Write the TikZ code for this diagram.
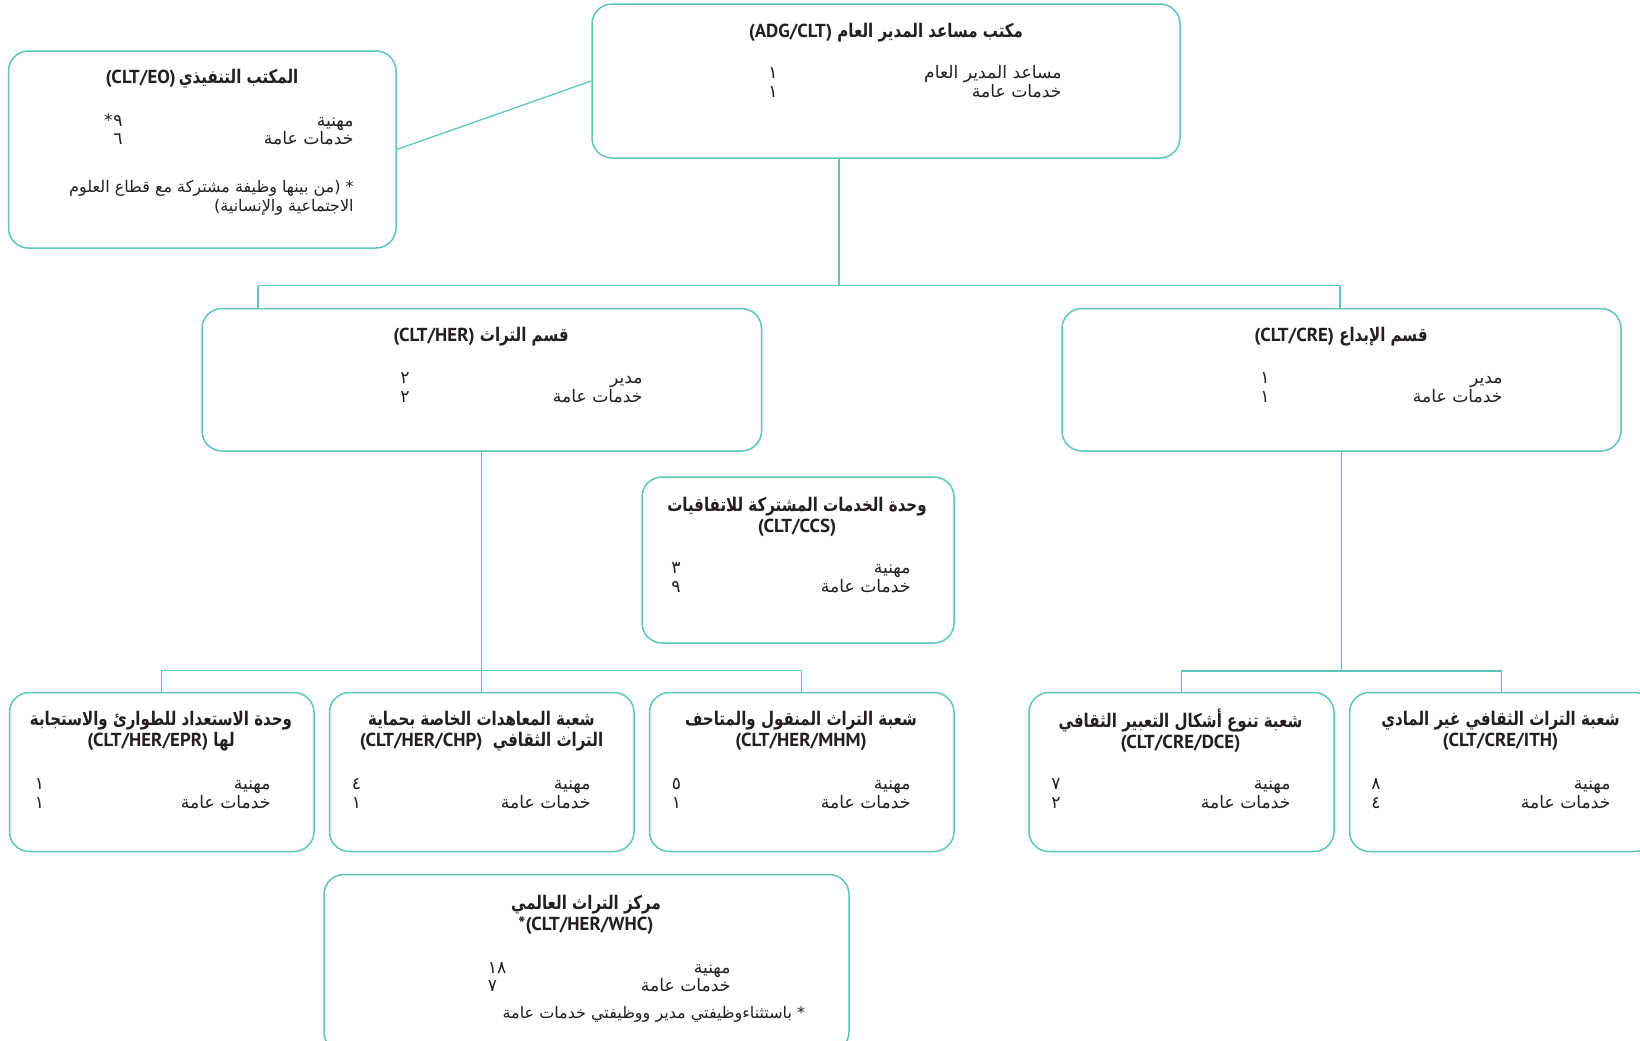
\documentclass[tikz,border=0pt]{standalone}
\usepackage{fontspec}
\setmainfont{DejaVu Sans}
\newfontfamily\ar[Script=Arabic]{DejaVu Sans}
\newfontfamily\arb[Script=Arabic,FakeStretch=0.8]{DejaVu Sans}
\newfontfamily\lt{PT Sans}
\TeXXeTstate=1
\usetikzlibrary{fit}
\newcommand\rtlx[1]{{\beginR #1\endR}}
\newcommand\latx[1]{{\lt #1}}
\definecolor{lineteal}{HTML}{5EC6BA}
\definecolor{ink}{HTML}{231F20}
\tikzset{
  orgbox/.style={draw=lineteal, line width=0.75pt, rounded corners=10pt, inner sep=0pt},
  conn/.style={draw=lineteal, line width=0.65pt},
  ttl/.style={font=\arb\bfseries\fontsize{9.4}{10.4}\selectfont, text=ink, inner sep=0pt, align=center},
  lbl/.style={font=\ar\fontsize{8.6}{9}\selectfont, text=ink, inner sep=0pt, anchor=east, text height=7pt, text depth=2pt},
  numtxt/.style={font=\ar\fontsize{8.6}{9}\selectfont, text=ink, inner sep=0pt, anchor=west, text height=7pt, text depth=2pt},
  fnote/.style={font=\ar\fontsize{8}{8.5}\selectfont, text=ink, inner sep=0pt, anchor=east, text height=6pt, text depth=2pt}
}
\begin{document}
\begin{tikzpicture}[x=0.5pt,y=-0.5pt]
\useasboundingbox (0,0) rectangle (1640,1040);
\fill[white] (0,0) rectangle (1640,1040);
\clip (0,0) rectangle (1640,1040);

% boxes
\node[orgbox, fit={(592,4) (1180,158)}] (adg) {};
\node[orgbox, fit={(8.5,51) (396,248)}] (eo) {};
\node[orgbox, fit={(202,308.5) (761.5,451)}] (her) {};
\node[orgbox, fit={(1062,308.5) (1621,451)}] (cre) {};
\node[orgbox, fit={(642,477) (954,643)}] (ccs) {};
\node[orgbox, fit={(9.5,692.5) (314,851.5)}] (epr) {};
\node[orgbox, fit={(329.5,692.5) (634,851.5)}] (chp) {};
\node[orgbox, fit={(649.5,692.5) (954,851.5)}] (mhm) {};
\node[orgbox, fit={(1029,692.5) (1334,851.5)}] (dce) {};
\node[orgbox, fit={(1349.5,692.5) (1654,851.5)}] (ith) {};
\node[orgbox, fit={(324,874.5) (849,1052)}] (whc) {};

% connectors
\coordinate (adgdrop) at (839,285.6);
\coordinate (busa) at (258,285.6);
\coordinate (busb) at (1340,285.6);
\coordinate (busc) at (161,670.5);
\coordinate (busd) at (1181,671);
\draw[conn] (eo.east) -- (adg.west);
\draw[conn] (adgdrop |- adg.south) -- (adgdrop);
\draw[conn] (busa) -- (busb);
\draw[conn] (busa) -- (busa |- her.north);
\draw[conn] (busb) -- (busb |- cre.north);
\draw[conn] (her.south) -- (chp.north);
\draw[conn] (epr.north) -- (epr.north |- busc) -- (mhm.north |- busc) -- (mhm.north);
\draw[conn] (cre.south) -- (cre.south |- busd);
\draw[conn] (dce.north) -- (dce.north |- busd) -- (ith.north |- busd) -- (ith.north);

% ADG
\node[ttl] (adgt) at (886,32.4) {\latx{(ADG/CLT)} \rtlx{مكتب مساعد المدير العام}};
\node[lbl] (adga) at (1062,73) {\rtlx{مساعد المدير العام}};
\node[lbl] (adgb) at (1062,92) {\rtlx{خدمات عامة}};
\node[numtxt] (adgna) at (768,73) {١};
\node[numtxt] (adgnb) at (768,92) {١};

% EO
\node[ttl] (eot) at (202,78.5) {\latx{(CLT/EO)}\,\rtlx{المكتب التنفيذي}};
\node[lbl] (eoa) at (354,121) {\rtlx{مهنية}};
\node[lbl] (eob) at (354,139) {\rtlx{خدمات عامة}};
\node[numtxt] (eona) at (113,121) {٩};
\node[numtxt, anchor=east] (eostar) at (eona.west) {*};
\node[numtxt] (eonb) at (113,139) {٦};
\node[fnote] (eofa) at (354,188) {\rtlx{* (من بينها وظيفة مشتركة مع قطاع العلوم}};
\node[fnote] (eofb) at (354,207) {\rtlx{الاجتماعية والإنسانية)}};

% HER
\node[ttl] (hert) at (481,337) {\latx{(CLT/HER)} \rtlx{قسم التراث}};
\node[lbl] (hera) at (643,378.6) {\rtlx{مدير}};
\node[lbl] (herb) at (643,397.5) {\rtlx{خدمات عامة}};
\node[numtxt] (herna) at (400,378.6) {٢};
\node[numtxt] (hernb) at (400,397.5) {٢};

% CRE
\node[ttl] (cret) at (1341,337) {\latx{(CLT/CRE)} \rtlx{قسم الإبداع}};
\node[lbl] (crea) at (1503,378.6) {\rtlx{مدير}};
\node[lbl] (creb) at (1503,397.5) {\rtlx{خدمات عامة}};
\node[numtxt] (crena) at (1260,378.6) {١};
\node[numtxt] (crenb) at (1260,397.5) {١};

% CCS
\node[ttl] (ccst) at (797,516.7) {\rtlx{وحدة الخدمات المشتركة للاتفاقيات}\\\latx{(CLT/CCS)}};
\node[lbl] (ccsa) at (911,568) {\rtlx{مهنية}};
\node[lbl] (ccsb) at (911,587.7) {\rtlx{خدمات عامة}};
\node[numtxt] (ccsna) at (671,568) {٣};
\node[numtxt] (ccsnb) at (671,587.7) {٩};

% EPR
\node[ttl] (eprt) at (161,731) {\rtlx{وحدة الاستعداد للطوارئ والاستجابة}\\\latx{(CLT/HER/EPR)} \rtlx{لها}};
\node[lbl] (epra) at (271,784.5) {\rtlx{مهنية}};
\node[lbl] (eprb) at (271,803) {\rtlx{خدمات عامة}};
\node[numtxt] (eprna) at (34.5,784.5) {١};
\node[numtxt] (eprnb) at (34.5,803) {١};

% CHP
\node[ttl] (chpt) at (481.5,731) {\rtlx{شعبة المعاهدات الخاصة بحماية}\\\latx{(CLT/HER/CHP)}\ \ \rtlx{التراث الثقافي}};
\node[lbl] (chpa) at (591,784.5) {\rtlx{مهنية}};
\node[lbl] (chpb) at (591,803) {\rtlx{خدمات عامة}};
\node[numtxt] (chpna) at (351.5,784.5) {٤};
\node[numtxt] (chpnb) at (351.5,803) {١};

% MHM
\node[ttl] (mhmt) at (801,731) {\rtlx{شعبة التراث المنقول والمتاحف}\\\latx{(CLT/HER/MHM)}};
\node[lbl] (mhma) at (911,784.5) {\rtlx{مهنية}};
\node[lbl] (mhmb) at (911,803) {\rtlx{خدمات عامة}};
\node[numtxt] (mhmna) at (671.5,784.5) {٥};
\node[numtxt] (mhmnb) at (671.5,803) {١};

% DCE
\node[ttl] (dcet) at (1180.5,731) {\rtlx{شعبة تنوع أشكال التعبير الثقافي}\\\latx{(CLT/CRE/DCE)}};
\node[lbl] (dcea) at (1291,784.5) {\rtlx{مهنية}};
\node[lbl] (dceb) at (1291,803) {\rtlx{خدمات عامة}};
\node[numtxt] (dcena) at (1051,784.5) {٧};
\node[numtxt] (dcenb) at (1051,803) {٢};

% ITH
\node[ttl] (itht) at (1500.5,731) {\rtlx{شعبة التراث الثقافي غير المادي}\\\latx{(CLT/CRE/ITH)}};
\node[lbl] (itha) at (1611,784.5) {\rtlx{مهنية}};
\node[lbl] (ithb) at (1611,803) {\rtlx{خدمات عامة}};
\node[numtxt] (ithna) at (1371,784.5) {٨};
\node[numtxt] (ithnb) at (1371,803) {٤};

% WHC
\node[ttl] (whct) at (586,915) {\rtlx{مركز التراث العالمي}\\\latx{*(CLT/HER/WHC)}};
\node[lbl] (whca) at (731,968.6) {\rtlx{مهنية}};
\node[lbl] (whcb) at (731,986) {\rtlx{خدمات عامة}};
\node[numtxt] (whcna) at (487.5,968.6) {١٨};
\node[numtxt] (whcnb) at (487.5,986) {٧};
\node[fnote] (whcf) at (805.5,1014.6) {\rtlx{* باستثناءوظيفتي مدير ووظيفتي خدمات عامة}};
\end{tikzpicture}
\end{document}
